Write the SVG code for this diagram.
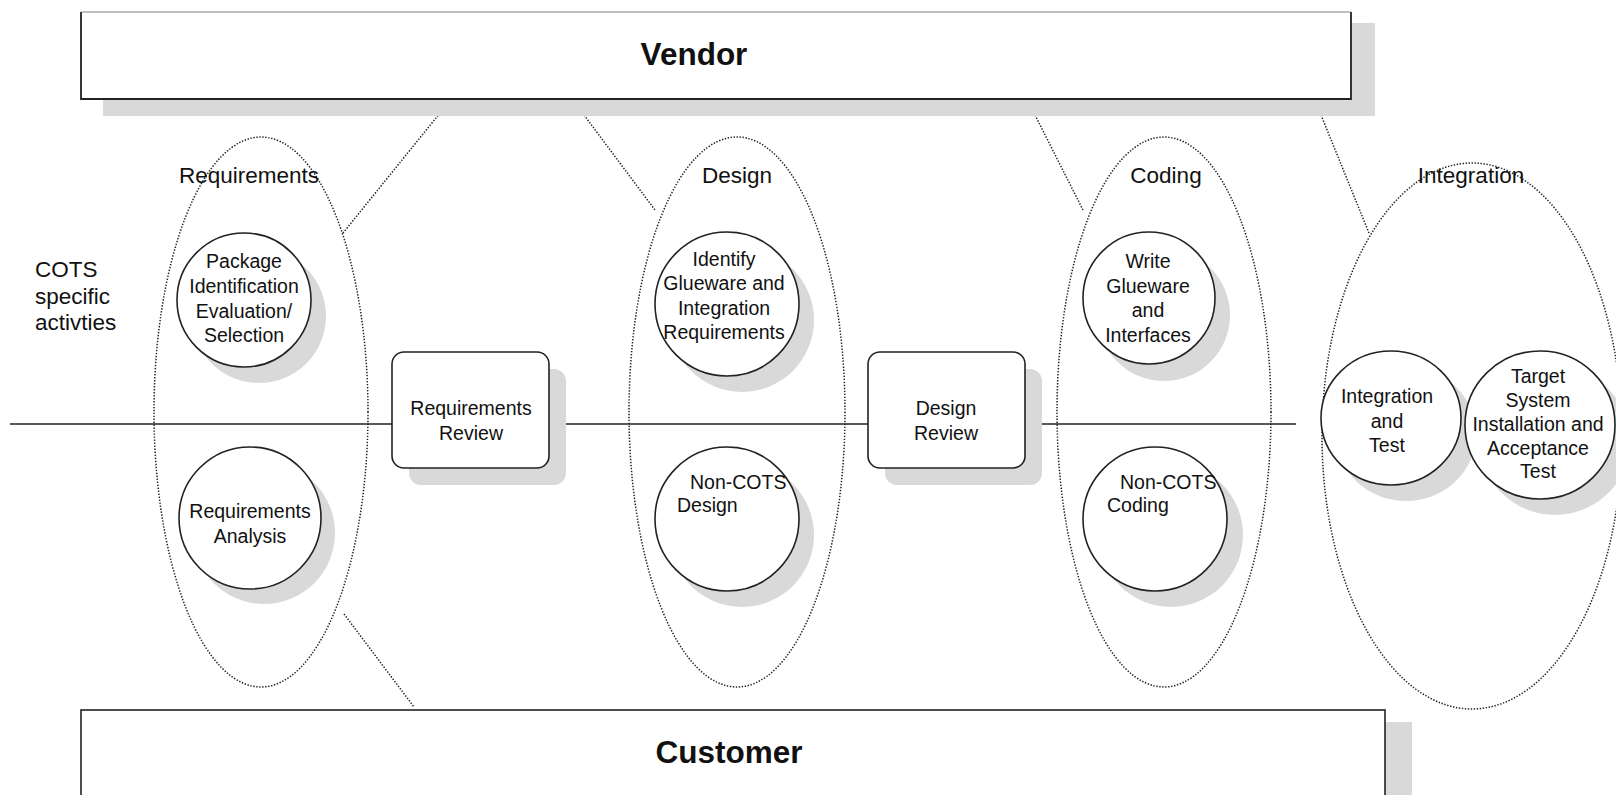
<svg xmlns="http://www.w3.org/2000/svg" width="1616" height="795" viewBox="0 0 1616 795">
<style>
text{font-family:"Liberation Sans",Arial,sans-serif;fill:#111;}
.t{font-size:19.5px;text-anchor:middle;}
.ts{font-size:19.5px;}
.lab{font-size:22.5px;text-anchor:middle;}
.big{font-size:31.5px;font-weight:bold;text-anchor:middle;}
.sh{fill:#d9d9d9;stroke:none;}
.nd{fill:#fff;stroke:#222;stroke-width:1.6;}
.dot{fill:none;stroke:#222;stroke-width:1.5;stroke-dasharray:1.4 1.6;}
</style>
<rect width="1616" height="795" fill="#fff"/>

<g id="phases">
<ellipse class="dot" cx="261" cy="412" rx="107" ry="275"/>
<ellipse class="dot" cx="737" cy="412" rx="108" ry="275"/>
<ellipse class="dot" cx="1164" cy="412" rx="107" ry="275"/>
<ellipse class="dot" cx="1472" cy="436" rx="150" ry="273"/>
<text class="lab" x="249" y="183">Requirements</text>
<text class="lab" x="737" y="183">Design</text>
<text class="lab" x="1166" y="183">Coding</text>
<text class="lab" x="1471" y="183">Integration</text>
</g>

<g id="connectors">
<line x1="10" y1="424" x2="1296" y2="424" stroke="#222" stroke-width="1.6"/>
<line class="dot" x1="440" y1="113" x2="343" y2="233"/>
<line class="dot" x1="584" y1="115" x2="655" y2="210"/>
<line class="dot" x1="1035" y1="115" x2="1083" y2="210"/>
<line class="dot" x1="1321" y1="115" x2="1369" y2="233"/>
<line class="dot" x1="344" y1="614" x2="414" y2="707"/>
</g>

<g id="vendor">
<rect class="sh" x="103" y="23" width="1272" height="93"/>
<rect x="81" y="12" width="1270" height="87" fill="#fff"/>
<line x1="81" y1="12" x2="1351" y2="12" stroke="#aaa" stroke-width="1.6"/>
<path d="M81 12 V99 H1351 V12" fill="none" stroke="#222" stroke-width="1.8"/>
<text class="big" x="694" y="65">Vendor</text>
</g>

<g id="customer">
<rect class="sh" x="103" y="722" width="1309" height="80"/>
<rect x="81" y="710" width="1304" height="90" fill="#fff" stroke="#222" stroke-width="1.6"/>
<text class="big" x="729" y="763">Customer</text>
</g>

<g id="cots-label">
<text class="ts" x="35" y="277" style="font-size:22.5px">COTS</text>
<text class="ts" x="35" y="304" style="font-size:22.5px">specific</text>
<text class="ts" x="35" y="330" style="font-size:22.5px">activties</text>
</g>

<g id="package-selection">
<circle class="sh" cx="259" cy="316" r="67"/>
<circle class="nd" cx="244" cy="300" r="67"/>
<text class="t" x="244" y="268">Package</text>
<text class="t" x="244" y="293">Identification</text>
<text class="t" x="244" y="318">Evaluation/</text>
<text class="t" x="244" y="342">Selection</text>
</g>

<g id="requirements-analysis">
<circle class="sh" cx="264" cy="533" r="71"/>
<circle class="nd" cx="250" cy="518" r="71"/>
<text class="t" x="250" y="518">Requirements</text>
<text class="t" x="250" y="543">Analysis</text>
</g>

<g id="requirements-review">
<rect class="sh" x="409" y="369" width="157" height="116" rx="12"/>
<rect class="nd" x="392" y="352" width="157" height="116" rx="12"/>
<text class="t" x="471" y="415">Requirements</text>
<text class="t" x="471" y="440">Review</text>
</g>

<g id="identify-glueware">
<circle class="sh" cx="742" cy="320" r="72"/>
<circle class="nd" cx="727" cy="304" r="72"/>
<text class="t" x="724" y="266">Identify</text>
<text class="t" x="724" y="290">Glueware and</text>
<text class="t" x="724" y="315">Integration</text>
<text class="t" x="724" y="339">Requirements</text>
</g>

<g id="non-cots-design">
<circle class="sh" cx="742" cy="535" r="72"/>
<circle class="nd" cx="727" cy="519" r="72"/>
<text class="ts" x="690" y="489">Non-COTS</text>
<text class="ts" x="677" y="512">Design</text>
</g>

<g id="design-review">
<rect class="sh" x="885" y="369" width="157" height="116" rx="12"/>
<rect class="nd" x="868" y="352" width="157" height="116" rx="12"/>
<text class="t" x="946" y="415">Design</text>
<text class="t" x="946" y="440">Review</text>
</g>

<g id="write-glueware">
<circle class="sh" cx="1164" cy="315" r="66"/>
<circle class="nd" cx="1149" cy="298" r="66"/>
<text class="t" x="1148" y="268">Write</text>
<text class="t" x="1148" y="293">Glueware</text>
<text class="t" x="1148" y="317">and</text>
<text class="t" x="1148" y="342">Interfaces</text>
</g>

<g id="non-cots-coding">
<circle class="sh" cx="1171" cy="535" r="72"/>
<circle class="nd" cx="1155" cy="519" r="72"/>
<text class="ts" x="1120" y="489">Non-COTS</text>
<text class="ts" x="1107" y="512">Coding</text>
</g>

<g id="integration-test">
<ellipse class="sh" cx="1406" cy="434" rx="70" ry="67"/>
<ellipse class="nd" cx="1391" cy="418" rx="70" ry="67"/>
<text class="t" x="1387" y="403">Integration</text>
<text class="t" x="1387" y="428">and</text>
<text class="t" x="1387" y="452">Test</text>
</g>

<g id="target-system">
<ellipse class="sh" cx="1555" cy="441" rx="75" ry="74"/>
<ellipse class="nd" cx="1540" cy="425" rx="75" ry="74"/>
<text class="t" x="1538" y="383">Target</text>
<text class="t" x="1538" y="407">System</text>
<text class="t" x="1538" y="431">Installation and</text>
<text class="t" x="1538" y="455">Acceptance</text>
<text class="t" x="1538" y="478">Test</text>
</g>
</svg>
